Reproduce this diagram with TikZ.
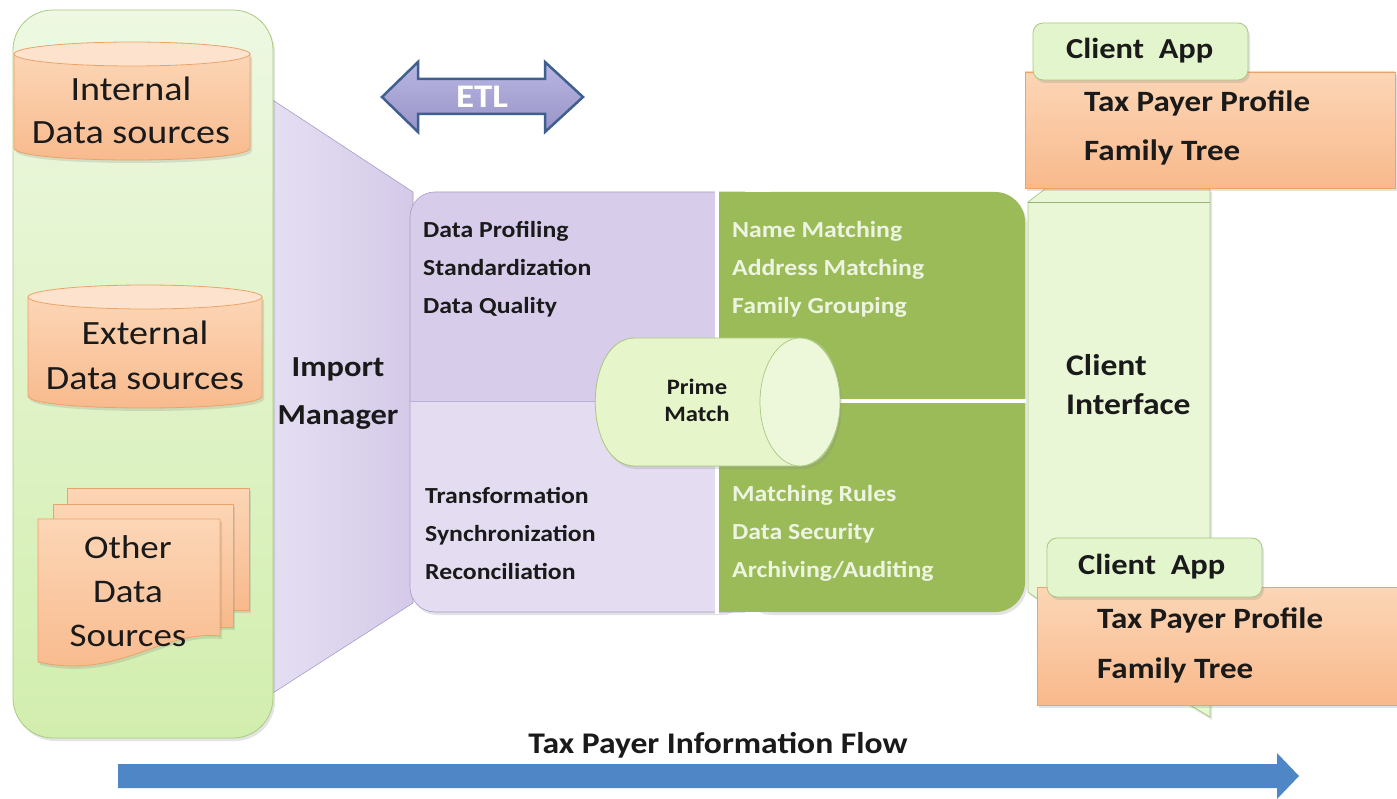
\documentclass[tikz,border=0pt]{standalone}
\usepackage{fontspec}
\setmainfont{Carlito}[FakeStretch=1.12]
\usetikzlibrary{shadows}
\definecolor{lpT}{HTML}{EEF8E2}
\definecolor{lpB}{HTML}{D2EEAE}
\definecolor{lpE}{HTML}{A8CC80}
\definecolor{orT}{HTML}{FCD6B6}
\definecolor{orB}{HTML}{F8B98C}
\definecolor{orTop}{HTML}{FDE3CE}
\definecolor{orE}{HTML}{EDA366}
\definecolor{puU}{HTML}{D7CDEA}
\definecolor{puL}{HTML}{E4DDF1}
\definecolor{puE}{HTML}{A99CC8}
\definecolor{pmL}{HTML}{E6E0F3}
\definecolor{pmR}{HTML}{D4CAE8}
\definecolor{gr}{HTML}{9BBB59}
\definecolor{grTxt}{HTML}{EEF4E2}
\definecolor{pmF}{HTML}{E6F5CA}
\definecolor{pmE}{HTML}{A9C77F}
\definecolor{etlT}{HTML}{B9B6E2}
\definecolor{etlB}{HTML}{9894C8}
\definecolor{etlE}{HTML}{3F5F8F}
\definecolor{flow}{HTML}{4F86C6}
\definecolor{ciF}{HTML}{E9F7D6}
\definecolor{tabF}{HTML}{E3F5CD}
\definecolor{ink}{HTML}{1A1A1A}
\newcommand\myfs[2]{\fontsize{#1}{#2}\selectfont}
\begin{document}
\begin{tikzpicture}[x=1pt,y=-1pt,
  txt/.style={inner sep=0pt, align=left, anchor=west, text=ink},
  ctxt/.style={inner sep=0pt, align=center, text=ink},
  orbody/.style={top color=orT, bottom color=orB, draw=orE, line width=0.8},
  shadowed/.style={drop shadow={opacity=0.22, shadow xshift=2pt, shadow yshift=-3pt}}]
\useasboundingbox (0,0) rectangle (1397,799);
\fill[white] (0,0) rectangle (1397,799);

% Import manager trapezoid
\shade[left color=pmL, right color=pmR, draw=puE, line width=0.6]
  (262,93) -- (413,192) -- (413,603) -- (262,700) -- cycle;

% left panel
\shade[shadowed, top color=lpT, bottom color=lpB, draw=lpE, line width=0.8, rounded corners=40]
  (13,10) rectangle (273,738);

% Internal cylinder
\shade[shadowed, orbody] (14,54) -- (14,148) .. controls (14,164) and (250,164) .. (250,148) -- (250,54) -- cycle;
\draw[fill=orTop, draw=orE, line width=0.8] (132,54) ellipse [x radius=118, y radius=12];
\node[ctxt, font=\myfs{34}{43}] (internal) at (131,110) {Internal\\Data sources};

% External cylinder
\shade[shadowed, orbody] (28,297) -- (28,396) .. controls (28,412) and (262,412) .. (262,396) -- (262,297) -- cycle;
\draw[fill=orTop, draw=orE, line width=0.8] (145,297) ellipse [x radius=117, y radius=12];
\node[ctxt, font=\myfs{34}{45}] (external) at (145,355) {External\\Data sources};

% Other data sources (multi document)
\shade[shadowed, orbody] (67,488) rectangle (249,610);
\shade[shadowed, orbody] (53,504) rectangle (233,627);
\shade[shadowed, orbody] (38,519) -- (220,519) -- (220,636) .. controls (160,630) and (120,680) .. (38,662) -- cycle;
\node[ctxt, font=\myfs{33}{44}] (other) at (128,591) {Other\\Data\\Sources};

\node[ctxt, font=\bfseries\myfs{29}{48}] (import) at (338,394) {Import\\Manager};

% ETL arrow
\shade[top color=etlT, bottom color=etlB, draw=etlE, line width=2.5, line join=miter]
  (382,97) -- (418,62) -- (418,79) -- (545,79) -- (545,62) -- (583,97) -- (545,132) -- (545,114) -- (418,114) -- (418,132) -- cycle;
\node[inner sep=0pt, text=white, font=\bfseries\myfs{33}{33}] (etl) at (482,97) {ETL};

% central purple block
\fill[shadowed, puU, rounded corners=25] (410,192) rectangle (745,612);
\begin{scope}
  \clip (400,401) rectangle (750,625);
  \fill[puL, rounded corners=25] (410,192) rectangle (745,612);
\end{scope}
\draw[puE, line width=0.6, rounded corners=25] (745,192) -- (410,192) -- (410,612) -- (745,612);
\draw[puE!80, line width=0.8] (410,401) -- (716,401);

% green block
\fill[gr] (718,192) rectangle (800,612);
\fill[shadowed, gr, rounded corners=30] (740,192) rectangle (1025,612);
\fill[gr] (718,192) rectangle (800,612);
\draw[white, line width=4] (717,190) -- (717,614);
\draw[white, line width=4] (719,401) -- (1026,401);

% texts in blocks
\node[txt, font=\bfseries\myfs{23}{38}] (prep) at (423,269) {Data Profiling\\Standardization\\Data Quality};
\node[txt, font=\bfseries\myfs{23}{38}] (trans) at (425,533) {Transformation\\Synchronization\\Reconciliation};
\node[txt, text=grTxt, font=\bfseries\myfs{23}{38}] (match) at (732,269) {Name Matching\\Address Matching\\Family Grouping};
\node[txt, text=grTxt, font=\bfseries\myfs{23}{38}] (rules) at (732,533) {Matching Rules\\Data Security\\Archiving/Auditing};

% Prime Match cylinder
\fill[shadowed, pmF, draw=pmE, line width=0.8]
  (800,338) -- (635,338) .. controls (582,338) and (582,466) .. (635,466) -- (800,466) .. controls (853,466) and (853,338) .. (800,338) -- cycle;
\draw[fill=pmF!70!white, draw=pmE, line width=0.7] (800,402) ellipse [x radius=40, y radius=64];
\node[ctxt, font=\bfseries\myfs{22}{27}] (prime) at (697,400) {Prime\\Match};

% Client interface
\fill[shadowed, ciF, draw=pmE, line width=0.7]
  (1028,202) -- (1045,189) -- (1210,189) -- (1210,717) -- (1190,705) -- (1028,592) -- cycle;
\draw[pmE!90!black, line width=0.7] (1028,202) -- (1210,202);
\node[txt, font=\bfseries\myfs{30}{39}] (ci) at (1066,385) {Client\\Interface};

% top client app
\shade[shadowed, orbody] (1025,72) rectangle (1395,188);
\fill[shadowed, tabF, draw=pmE, line width=0.8, rounded corners=10] (1033,23) rectangle (1248,80);
\node[txt, font=\bfseries\myfs{29}{29}] (app1) at (1066,51) {Client~~App};
\node[txt, font=\bfseries\myfs{29.5}{49}] (prof1) at (1084,128) {Tax Payer Profile\\Family Tree};

% bottom client app
\shade[shadowed, orbody] (1037,587) rectangle (1397,705);
\fill[shadowed, tabF, draw=pmE, line width=0.8, rounded corners=10] (1047,538) rectangle (1262,597);
\node[txt, font=\bfseries\myfs{29}{29}] (app2) at (1078,567) {Client~~App};
\node[txt, font=\bfseries\myfs{29.5}{50}] (prof2) at (1097,645) {Tax Payer Profile\\Family Tree};

% information flow arrow
\fill[flow] (118,764) -- (1277,764) -- (1277,753) -- (1299,776) -- (1277,799) -- (1277,788) -- (118,788) -- cycle;
\node[ctxt, font=\bfseries\myfs{30}{30}] (flowlbl) at (718,745) {Tax Payer Information Flow};
\end{tikzpicture}
\end{document}
